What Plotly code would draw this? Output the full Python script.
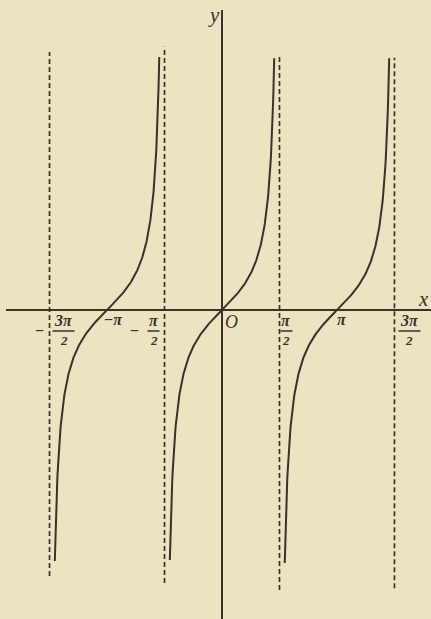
import numpy as np
import plotly.graph_objects as go

# branch centres (tan x crosses zero here) and where each drawn branch stops
branch_centres = [-np.pi, 0.0, np.pi]
branch_top = [6.91, 6.88, 6.88]
branch_bottom = [-6.86, -6.83, -6.91]

# dashed asymptotes x = -3pi/2, -pi/2, pi/2, 3pi/2 and their drawn extents
asym_x = [-1.5 * np.pi, -0.5 * np.pi, 0.5 * np.pi, 1.5 * np.pi]
asym_top = [7.05, 7.19, 6.94, 6.89]
asym_bottom = [-7.27, -7.46, -7.65, -7.60]

# tick labels on the x axis (numerator, denominator, sign)
tick_x = [-1.5 * np.pi, -np.pi, -0.5 * np.pi, 0.5 * np.pi, np.pi, 1.5 * np.pi]
tick_num = ["3π", "π", "π", "π", "π", "3π"]
tick_den = ["2", "", "2", "2", "", "2"]
tick_sign = ["−", "−", "−", "", "", ""]

PX = 36.6          # pixels per unit, same on both axes
W, H = 431, 619
X0, Y0 = 222, 310  # pixel position of the origin
INK = "#3a302d"
PAPER = "#ebe4c1"
FONT = "Liberation Serif"

def px_x(p):
    return (p - X0) / PX

def px_y(p):
    return (Y0 - p) / PX

fig = go.Figure()

# tangent branches
for c, top, bot in zip(branch_centres, branch_top, branch_bottom):
    xs = np.linspace(c + np.arctan(bot), c + np.arctan(top), 300)
    fig.add_trace(go.Scatter(x=xs, y=np.tan(xs), mode="lines",
                             line=dict(color=INK, width=2), hoverinfo="skip"))

# asymptotes
ax, ay = [], []
for x, t, b in zip(asym_x, asym_top, asym_bottom):
    ax += [x, x, None]
    ay += [b, t, None]
fig.add_trace(go.Scatter(x=ax, y=ay, mode="lines",
                         line=dict(color=INK, width=1.7, dash="5px,3px"),
                         hoverinfo="skip"))

# axes
fig.add_shape(type="line", x0=px_x(6), x1=px_x(431), y0=0, y1=0,
              line=dict(color=INK, width=2.2))
fig.add_shape(type="line", x0=0, x1=0, y0=px_y(10), y1=px_y(619),
              line=dict(color=INK, width=2))

lab = dict(family=FONT, size=16, color=INK)
fig.add_annotation(x=px_x(423), y=px_y(299), text="<i>x</i>", showarrow=False,
                   font=dict(family=FONT, size=21, color=INK))
fig.add_annotation(x=px_x(214), y=px_y(15), text="<i>y</i>", showarrow=False,
                   font=dict(family=FONT, size=21, color=INK))
fig.add_annotation(x=px_x(231), y=px_y(322), text="<i>O</i>", showarrow=False,
                   font=dict(family=FONT, size=18, color=INK))

# tick labels, written as small fractions
label_shift = [14, 6, -11, 7, 5, 15]
for x, num, den, sign, dx in zip(tick_x, tick_num, tick_den, tick_sign, label_shift):
    cx = x + dx / PX
    if den:
        fig.add_annotation(x=cx, y=px_y(320), text="<b><i>" + num + "</i></b>",
                           showarrow=False, font=lab)
        bar = 11 if len(num) > 1 else 6
        fig.add_shape(type="line", x0=cx - bar / PX, x1=cx + bar / PX,
                      y0=px_y(331), y1=px_y(331), line=dict(color=INK, width=1.5))
        fig.add_annotation(x=cx, y=px_y(340), text="<b><i>" + den + "</i></b>",
                           showarrow=False, font=dict(family=FONT, size=13, color=INK))
        if sign:
            fig.add_annotation(x=cx - (bar + 13) / PX, y=px_y(330), text="<b>" + sign + "</b>",
                               showarrow=False, font=lab)
    else:
        txt = sign + "<i>" + num + "</i>"
        fig.add_annotation(x=cx, y=px_y(319), text="<b>" + txt + "</b>",
                           showarrow=False, font=lab)

fig.update_layout(
    width=W, height=H,
    margin=dict(l=0, r=0, t=0, b=0),
    paper_bgcolor=PAPER, plot_bgcolor=PAPER,
    showlegend=False,
    xaxis=dict(range=[px_x(0), px_x(W)], visible=False, fixedrange=True),
    yaxis=dict(range=[px_y(H), px_y(0)], visible=False, fixedrange=True),
)

fig.write_html("out.html", config={"displayModeBar": False},
               post_script="document.body.style.margin='0';")
